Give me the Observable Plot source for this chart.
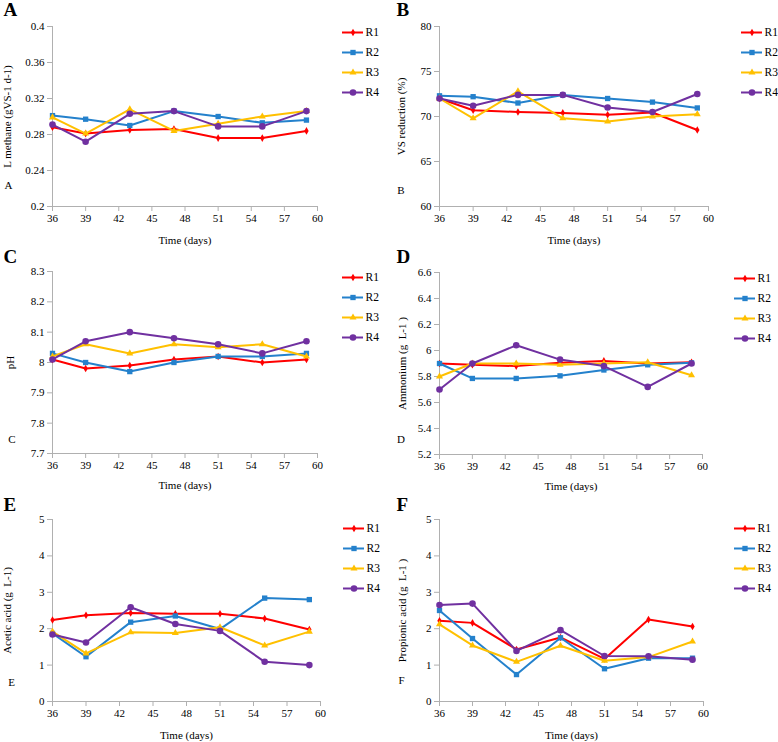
<!DOCTYPE html>
<html><head><meta charset="utf-8">
<script src="https://cdn.jsdelivr.net/npm/d3@7"></script>
<script src="https://cdn.jsdelivr.net/npm/@observablehq/plot@0.6"></script>
<style>
body{margin:0;background:#fff;}
#wrap{position:relative;width:778px;height:742px;background:#fff;}
#wrap > svg{position:absolute;overflow:visible;}
</style></head><body><div id="wrap"></div>
<script>
// ---- shared categories ----
const days = [36, 39, 43, 47, 51, 55, 59];
const seriesNames = ["R1", "R2", "R3", "R4"];
const xTicks = [36, 39, 42, 45, 48, 51, 54, 57, 60];

// ---- A: L methane ----
const methaneR1 = [0.288, 0.281, 0.285, 0.286, 0.276, 0.276, 0.284];
const methaneR2 = [0.301, 0.297, 0.290, 0.306, 0.300, 0.293, 0.296];
const methaneR3 = [0.299, 0.281, 0.308, 0.284, 0.292, 0.300, 0.306];
const methaneR4 = [0.291, 0.272, 0.303, 0.306, 0.289, 0.289, 0.306];
const methaneTicks = [0.2, 0.24, 0.28, 0.32, 0.36, 0.4];

// ---- B: VS reduction ----
const vsR1 = [72.0, 70.7, 70.5, 70.4, 70.2, 70.45, 68.5];
const vsR2 = [72.3, 72.2, 71.5, 72.4, 72.0, 71.6, 70.95];
const vsR3 = [72.0, 69.8, 72.8, 69.8, 69.45, 70.0, 70.25];
const vsR4 = [72.0, 71.2, 72.4, 72.4, 71.0, 70.5, 72.5];
const vsTicks = [60, 65, 70, 75, 80];

// ---- C: pH ----
const phR1 = [8.01, 7.98, 7.99, 8.01, 8.02, 8.00, 8.01];
const phR2 = [8.03, 8.00, 7.97, 8.00, 8.02, 8.02, 8.03];
const phR3 = [8.02, 8.06, 8.03, 8.06, 8.05, 8.06, 8.02];
const phR4 = [8.01, 8.07, 8.10, 8.08, 8.06, 8.03, 8.07];
const phTicks = [7.7, 7.8, 7.9, 8, 8.1, 8.2, 8.3];

// ---- D: Ammonium ----
const nhR1 = [5.90, 5.89, 5.88, 5.905, 5.92, 5.90, 5.91];
const nhR2 = [5.90, 5.785, 5.785, 5.805, 5.85, 5.89, 5.905];
const nhR3 = [5.80, 5.90, 5.90, 5.89, 5.90, 5.91, 5.81];
const nhR4 = [5.70, 5.90, 6.04, 5.93, 5.88, 5.72, 5.90];
const nhTicks = [5.2, 5.4, 5.6, 5.8, 6, 6.2, 6.4, 6.6];

// ---- E: Acetic acid ----
const aceticR1 = [2.24, 2.37, 2.43, 2.41, 2.41, 2.28, 1.98];
const aceticR2 = [1.87, 1.23, 2.18, 2.35, 1.99, 2.84, 2.80];
const aceticR3 = [1.92, 1.32, 1.90, 1.88, 2.04, 1.54, 1.92];
const aceticR4 = [1.84, 1.62, 2.59, 2.13, 1.94, 1.09, 1.00];

// ---- F: Propionic acid ----
const propR1 = [2.22, 2.16, 1.43, 1.76, 1.17, 2.25, 2.06];
const propR2 = [2.50, 1.73, 0.74, 1.75, 0.90, 1.19, 1.19];
const propR3 = [2.12, 1.54, 1.09, 1.53, 1.12, 1.22, 1.65];
const propR4 = [2.65, 2.69, 1.39, 1.96, 1.25, 1.24, 1.15];
const acidTicks = [0, 1, 2, 3, 4, 5];

// ---- styles ----
const seriesColors = ["#FF0000", "#2481CC", "#FFC000", "#7030A0"];
const seriesSymbols = ["diamond", "square", "triangle", "circle"];
const seriesRadius = [2.3, 3.0, 2.6, 3.3];
const axisGray = "#b0b0b0";
const FONT = "'Liberation Serif','Times New Roman',serif";

const panels = [
  {letter: "A", ylabel: "L methane (gVS-1 d-1)", values: [methaneR1, methaneR2, methaneR3, methaneR4], ticks: methaneTicks,
   left: 0, top: 0, w: 389, h: 245, ml: 52, mr: 72, mt: 26, mb: 39,
   ylabDx: -45, smallDx: -44, smallDy: -18, bigDx: -49, bigDy: -11, timeDy: 37,
   leg: {x: 342, y: 31}},
  {letter: "B", ylabel: "VS reduction (%)", values: [vsR1, vsR2, vsR3, vsR4], ticks: vsTicks,
   left: 389, top: 0, w: 389, h: 245, ml: 50, mr: 70, mt: 26, mb: 39,
   ylabDx: -38, smallDx: -38.5, smallDy: -13, bigDx: -43, bigDy: -11, timeDy: 37,
   leg: {x: 741, y: 31}},
  {letter: "C", ylabel: "pH", values: [phR1, phR2, phR3, phR4], ticks: phTicks,
   left: 0, top: 245, w: 389, h: 245, ml: 52, mr: 72, mt: 26, mb: 37,
   ylabDx: -42, smallDx: -40.5, smallDy: -11, bigDx: -49, bigDy: -9, timeDy: 35,
   leg: {x: 342, y: 276}},
  {letter: "D", ylabel: "Ammonium (g  L-1 )", values: [nhR1, nhR2, nhR3, nhR4], ticks: nhTicks,
   left: 389, top: 245, w: 389, h: 245, ml: 50, mr: 76, mt: 27, mb: 36,
   ylabDx: -37.5, smallDx: -38.5, smallDy: -12, bigDx: -43, bigDy: -10, timeDy: 35,
   leg: {x: 734, y: 277}},
  {letter: "E", ylabel: "Acetic acid (g  L-1)", values: [aceticR1, aceticR2, aceticR3, aceticR4], ticks: acidTicks,
   left: 0, top: 490, w: 389, h: 252, ml: 52, mr: 69, mt: 29, mb: 41,
   ylabDx: -45, smallDx: -41, smallDy: -16, bigDx: -49, bigDy: -9, timeDy: 37,
   leg: {x: 343, y: 527}},
  {letter: "F", ylabel: "Propionic acid (g  L-1 )", values: [propR1, propR2, propR3, propR4], ticks: acidTicks,
   left: 389, top: 490, w: 389, h: 252, ml: 50, mr: 75, mt: 29, mb: 41,
   ylabDx: -37, smallDx: -38, smallDy: -18, bigDx: -43, bigDy: -9, timeDy: 37,
   leg: {x: 734, y: 527}}
];

const wrap = document.getElementById("wrap");
const common = {
  color: {domain: seriesNames, range: seriesColors},
  symbol: {domain: seriesNames, range: seriesSymbols},
  r: {type: "identity"},
  style: {fontFamily: FONT, fontSize: "11px", color: "black", background: "transparent", overflow: "visible"}
};

for (const p of panels) {
  const rows = [];
  seriesNames.forEach((s, i) => days.forEach((d, j) => rows.push({day: d, value: p.values[i][j], series: s, rad: seriesRadius[i]})));
  const y0 = p.ticks[0], y1 = p.ticks[p.ticks.length - 1];
  const marks = [
    Plot.ruleY([y0], {stroke: axisGray, strokeWidth: 1}),
    Plot.ruleX([36], {stroke: axisGray, strokeWidth: 1}),
    Plot.axisX({ticks: xTicks, tickSize: 5, tickPadding: 3, stroke: axisGray, fill: "black", tickFormat: d => String(d), label: null, fontSize: 11}),
    Plot.axisY({ticks: p.ticks, tickSize: 5, tickPadding: 3, stroke: axisGray, fill: "black", tickFormat: d => String(d), label: null, fontSize: 11})
  ];
  for (const s of seriesNames) {
    const sub = rows.filter(r => r.series === s);
    marks.push(Plot.line(sub, {x: "day", y: "value", stroke: "series", strokeWidth: 2}));
    marks.push(Plot.dot(sub, {x: "day", y: "value", symbol: "series", fill: "series", stroke: "none", r: "rad"}));
  }
  marks.push(
    Plot.text(["Time (days)"], {frameAnchor: "bottom", dy: p.timeDy, lineAnchor: "bottom", textAnchor: "middle", fontSize: 11, fill: "black"}),
    Plot.text([p.ylabel], {frameAnchor: "left", dx: p.ylabDx, rotate: -90, textAnchor: "middle", lineAnchor: "middle", fontSize: 11, fill: "black"}),
    Plot.text([p.letter], {frameAnchor: "bottom-left", dx: p.smallDx, dy: p.smallDy, textAnchor: "middle", lineAnchor: "bottom", fontSize: 11, fill: "black"}),
    Plot.text([p.letter], {frameAnchor: "top-left", dx: p.bigDx, dy: p.bigDy, textAnchor: "start", lineAnchor: "bottom", fontSize: 19, fontWeight: "bold", fill: "black"})
  );
  const chart = Plot.plot({
    ...common,
    width: p.w, height: p.h,
    marginLeft: p.ml, marginRight: p.mr, marginTop: p.mt, marginBottom: p.mb,
    x: {domain: [36, 60], axis: null},
    y: {domain: [y0, y1], axis: null},
    marks
  });
  chart.style.left = p.left + "px";
  chart.style.top = p.top + "px";
  wrap.appendChild(chart);

  // legend
  const legRows = seriesNames.map((s, i) => ({series: s, rad: seriesRadius[i]}));
  const spacing = 20.7;
  const leg = Plot.plot({
    ...common,
    width: 48, height: spacing * 3 + 16,
    marginLeft: 4, marginRight: 23, marginTop: 8, marginBottom: 8,
    x: {domain: [0, 1], axis: null},
    y: {type: "point", domain: seriesNames, padding: 0, axis: null},
    marks: [
      Plot.ruleY(legRows, {y: "series", x1: () => 0, x2: () => 1, stroke: "series", strokeWidth: 2}),
      Plot.dot(legRows, {x: () => 0.5, y: "series", symbol: "series", fill: "series", stroke: "none", r: "rad"}),
      Plot.text(legRows, {x: () => 1, y: "series", text: "series", dx: 2, textAnchor: "start", fontSize: 11.5, fill: "black"})
    ]
  });
  leg.style.left = (p.leg.x - 4) + "px";
  leg.style.top = (p.leg.y - 8) + "px";
  wrap.appendChild(leg);
}
</script></body></html>
